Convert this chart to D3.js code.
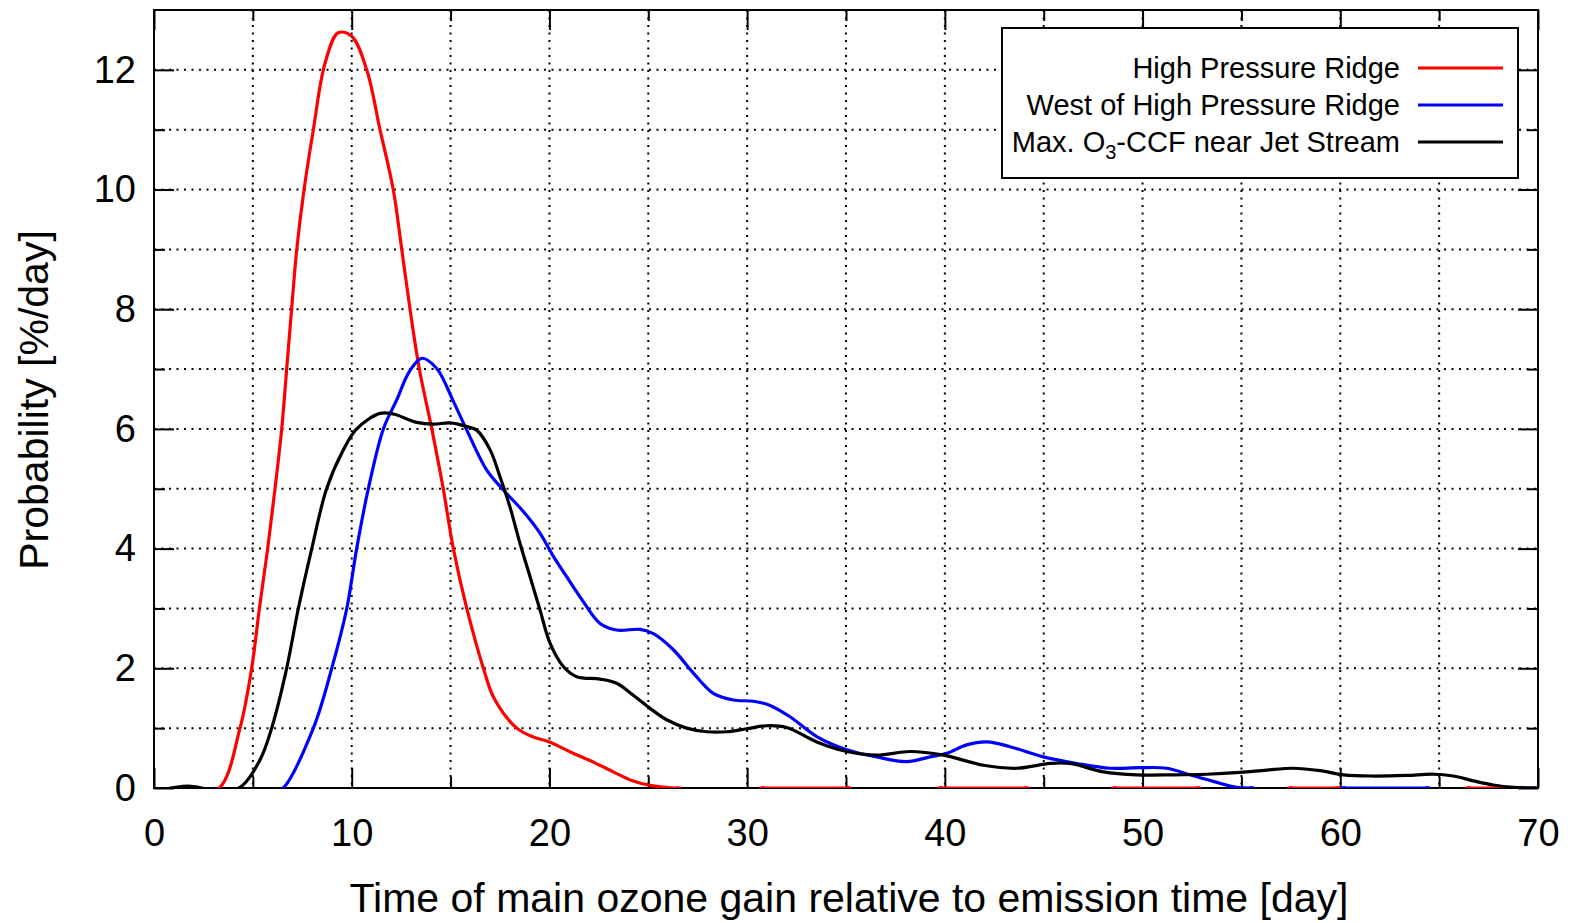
<!DOCTYPE html>
<html>
<head>
<meta charset="utf-8">
<script src="https://cdn.jsdelivr.net/npm/d3@7/dist/d3.min.js"></script>
<style>
  html, body { margin: 0; padding: 0; background: #fff; }
  svg { display: block; }
  text { font-family: "Liberation Sans", Arial, Helvetica, sans-serif; fill: #000; }
</style>
</head>
<body>
<svg id="chart" width="1576" height="923"></svg>
<script>
// ---------------- data ----------------
const seriesNames = ["High Pressure Ridge", "West of High Pressure Ridge", "Max. O3-CCF near Jet Stream"];
const seriesColors = ["#ff0000", "#0000ff", "#000000"];

const redX = [0, 2, 3.3, 4.35, 4.94, 5.33, 5.75, 6.12, 6.46, 6.71, 6.96, 7.22, 7.59, 8.06, 8.65, 9.32, 10.0, 10.76, 11.43, 12.1, 12.53, 12.95, 13.42, 14.05, 14.63, 15.14, 15.82, 16.66, 17.2, 18.35, 19.2, 20.0, 21.2, 22.3, 23.23, 24.2, 25.0, 26.3, 26.6, 26.8, 30.5, 30.7, 31.0, 34.9, 35.2, 35.4, 39.5, 39.7, 40.0, 43.9, 44.2, 44.4, 48.3, 48.5, 48.8, 52.6, 52.9, 53.1, 57.2, 57.4, 57.7, 59.7, 60.0, 60.2, 66.2, 66.4, 66.7, 68.6, 68.9, 69.1, 70];
const redY = [-0.08, -0.08, 0, 1, 2, 3, 4, 5, 6, 7, 8, 9, 10, 11, 12.11, 12.62, 12.56, 12.0, 11, 10, 9, 8, 7, 6, 5, 4, 3, 2, 1.5, 1, 0.85, 0.77, 0.58, 0.42, 0.27, 0.12, 0.05, 0, 0, -0.08, -0.08, 0, 0, 0, 0, -0.08, -0.08, 0, 0, 0, 0, -0.08, -0.08, 0, 0, 0, 0, -0.08, -0.08, 0, 0, 0, 0, -0.08, -0.08, 0, 0, 0, 0, -0.08, -0.08];

const blueX = [0, 6.0, 6.54, 8.06, 8.99, 9.75, 10.25, 10.84, 11.6, 12.27, 12.9, 13.54, 14.3, 15.14, 15.82, 16.83, 17.67, 18.68, 19.52, 20.2, 20.87, 21.72, 22.56, 23.4, 24.58, 25.26, 26.27, 27.28, 28.29, 29.3, 30.31, 31.16, 32.17, 33.52, 35.04, 36.55, 38.07, 39.25, 40.1, 41.1, 42.12, 43.3, 44.98, 46.67, 48.36, 49.87, 51.22, 52.4, 53.58, 54.76, 55.3, 55.6, 55.8, 59.9, 60.1, 60.4, 64.2, 64.5, 64.7, 68.7, 68.9, 69.2, 70];
const blueY = [-0.08, -0.08, 0, 1, 2, 3, 4, 5, 6, 6.48, 6.95, 7.18, 7.01, 6.46, 5.98, 5.31, 4.98, 4.62, 4.26, 3.87, 3.53, 3.11, 2.75, 2.64, 2.65, 2.58, 2.31, 1.92, 1.58, 1.47, 1.45, 1.38, 1.19, 0.86, 0.64, 0.52, 0.44, 0.52, 0.58, 0.72, 0.77, 0.69, 0.52, 0.41, 0.33, 0.34, 0.33, 0.22, 0.11, 0.01, 0, 0, -0.08, -0.08, 0, 0, 0, 0, -0.08, -0.08, 0, 0, 0];

const blackX = [0, 1.7, 3.0, 4.3, 5.36, 5.95, 6.71, 7.3, 7.98, 8.73, 9.58, 10.25, 11.43, 12.1, 13.29, 14.13, 14.97, 15.82, 16.32, 17.0, 17.5, 18.0, 18.51, 19.02, 19.52, 20.03, 20.7, 21.38, 22.56, 23.4, 24.24, 25.09, 25.93, 26.94, 27.96, 28.97, 29.98, 30.99, 32.0, 33.52, 35.04, 36.55, 38.24, 39.93, 41.95, 43.64, 45.32, 46.33, 48.02, 49.71, 51.56, 53.25, 54.93, 56.28, 57.63, 58.98, 60.16, 61.68, 63.36, 64.71, 65.72, 66.73, 67.74, 68.75, 70];
const blackY = [-0.06, 0.03, -0.03, 0, 0.47, 1, 2, 3, 4, 5, 5.65, 6.0, 6.26, 6.25, 6.11, 6.08, 6.1, 6.04, 5.98, 5.65, 5.2, 4.70, 4.09, 3.53, 2.98, 2.42, 2.03, 1.86, 1.82, 1.75, 1.55, 1.33, 1.14, 1.0, 0.94, 0.94, 0.99, 1.04, 1.01, 0.77, 0.61, 0.55, 0.61, 0.55, 0.38, 0.33, 0.41, 0.41, 0.27, 0.22, 0.22, 0.23, 0.26, 0.3, 0.33, 0.29, 0.22, 0.2, 0.21, 0.23, 0.2, 0.12, 0.05, 0.01, 0];

const xMajorTicks = [0, 10, 20, 30, 40, 50, 60, 70];
const xMinorTicks = [5, 15, 25, 35, 45, 55, 65];
const yMajorTicks = [0, 2, 4, 6, 8, 10, 12];
const yMinorTicks = [1, 3, 5, 7, 9, 11];
const xTitle = "Time of main ozone gain relative to emission time [day]";
const yTitle = "Probability [%/day]";

// ---------------- layout ----------------
const L = 154, R = 1538, T = 10, B = 788;
const svg = d3.select("#chart");
const x = d3.scaleLinear().domain([0, 70]).range([L, R]);
const y = d3.scaleLinear().domain([0, 13]).range([B, T]);

svg.append("defs").append("clipPath").attr("id", "plotclip")
  .append("rect").attr("x", L).attr("y", T).attr("width", R - L).attr("height", B - T);

// grid
const grid = svg.append("g");
grid.selectAll("line.gx").data(xMajorTicks.concat(xMinorTicks).filter(d => d > 0 && d < 70))
  .join("line").attr("x1", d => x(d)).attr("x2", d => x(d)).attr("y1", T).attr("y2", B)
  .attr("stroke", "#000").attr("stroke-width", 2).attr("stroke-dasharray", "2,5.5");
grid.selectAll("line.gy").data(yMajorTicks.concat(yMinorTicks).filter(d => d > 0))
  .join("line").attr("y1", d => y(d)).attr("y2", d => y(d)).attr("x1", L).attr("x2", R)
  .attr("stroke", "#000").attr("stroke-width", 2).attr("stroke-dasharray", "2,5.5");

// axes (ticks inward, mirrored)
function styleAxis(g) {
  g.select(".domain").remove();
  g.selectAll(".tick line").attr("stroke", "#000").attr("stroke-width", 2);
  g.selectAll("text").style("font-family", "'Liberation Sans', Arial, sans-serif");
}
svg.append("g").attr("transform", `translate(0,${B})`)
  .call(d3.axisBottom(x).tickValues(xMajorTicks).tickSize(-20).tickPadding(31).tickFormat(d3.format("d")))
  .call(styleAxis).selectAll("text").style("font-size", "38px");
svg.append("g").attr("transform", `translate(0,${B})`)
  .call(d3.axisBottom(x).tickValues(xMinorTicks).tickSize(-11).tickFormat(""))
  .call(styleAxis);
svg.append("g").attr("transform", `translate(0,${T})`)
  .call(d3.axisTop(x).tickValues(xMajorTicks).tickSize(-20).tickFormat(""))
  .call(styleAxis);
svg.append("g").attr("transform", `translate(0,${T})`)
  .call(d3.axisTop(x).tickValues(xMinorTicks).tickSize(-11).tickFormat(""))
  .call(styleAxis);
svg.append("g").attr("transform", `translate(${L},0)`)
  .call(d3.axisLeft(y).tickValues(yMajorTicks).tickSize(-20).tickPadding(18).tickFormat(d3.format("d")))
  .call(styleAxis).selectAll("text").style("font-size", "38px");
svg.append("g").attr("transform", `translate(${L},0)`)
  .call(d3.axisLeft(y).tickValues(yMinorTicks).tickSize(-11).tickFormat(""))
  .call(styleAxis);
svg.append("g").attr("transform", `translate(${R},0)`)
  .call(d3.axisRight(y).tickValues(yMajorTicks).tickSize(-20).tickFormat(""))
  .call(styleAxis);
svg.append("g").attr("transform", `translate(${R},0)`)
  .call(d3.axisRight(y).tickValues(yMinorTicks).tickSize(-11).tickFormat(""))
  .call(styleAxis);

// border
svg.append("rect").attr("x", L).attr("y", T).attr("width", R - L).attr("height", B - T)
  .attr("fill", "none").attr("stroke", "#000").attr("stroke-width", 2);

// series
const series = [
  { xs: redX, ys: redY },
  { xs: blueX, ys: blueY },
  { xs: blackX, ys: blackY }
];
const line = d3.line().x(d => x(d[0])).y(d => y(d[1])).curve(d3.curveCatmullRom.alpha(0.5));
const plot = svg.append("g").attr("clip-path", "url(#plotclip)");
series.forEach((s, i) => {
  const pts = s.xs.map((v, j) => [v, s.ys[j]]);
  plot.append("path").datum(pts).attr("d", line)
    .attr("fill", "none").attr("stroke", seriesColors[i]).attr("stroke-width", 3.2)
    .attr("stroke-linejoin", "round");
});

// axis titles
svg.append("text").attr("x", 849).attr("y", 912).attr("text-anchor", "middle")
  .style("font-size", "41px").text(xTitle);
svg.append("text").attr("transform", "translate(48,400) rotate(-90)").attr("text-anchor", "middle")
  .style("font-size", "41px").text(yTitle);

// legend
const lg = svg.append("g");
lg.append("rect").attr("x", 1002).attr("y", 28).attr("width", 516).attr("height", 150)
  .attr("fill", "#fff").attr("stroke", "#000").attr("stroke-width", 2);
const rowY = [68, 105, 142];
seriesNames.forEach((name, i) => {
  const t = lg.append("text").attr("x", 1400).attr("y", rowY[i] + 10).attr("text-anchor", "end")
    .style("font-size", "29px");
  if (name.includes("O3")) {
    const parts = name.split("O3");
    t.append("tspan").text(parts[0] + "O");
    t.append("tspan").attr("dy", 7).style("font-size", "20px").text("3");
    t.append("tspan").attr("dy", -7).text(parts[1]);
  } else {
    t.text(name);
  }
  lg.append("line").attr("x1", 1418).attr("x2", 1503).attr("y1", rowY[i]).attr("y2", rowY[i])
    .attr("stroke", seriesColors[i]).attr("stroke-width", 3.2);
});
</script>
</body>
</html>
